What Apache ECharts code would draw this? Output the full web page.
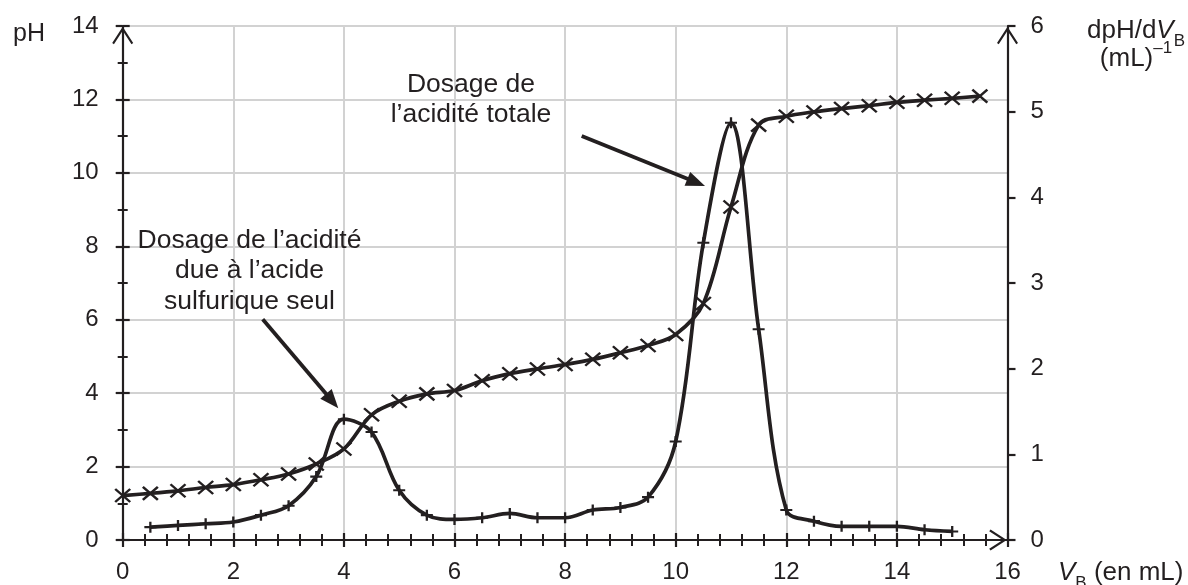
<!DOCTYPE html>
<html>
<head>
<meta charset="utf-8">
<script src="https://cdn.jsdelivr.net/npm/echarts@6/dist/echarts.min.js"></script>
<style>
html,body{margin:0;padding:0;background:#fff;}
#c{width:1188px;height:585px;}
</style>
</head>
<body>
<div id="c"></div>
<script>
// ---- data ----
const volumePH = [0,0.5,1,1.5,2,2.5,3,3.5,4,4.5,5,5.5,6,6.5,7,7.5,8,8.5,9,9.5,10,10.5,11,11.5,12,12.5,13,13.5,14,14.5,15,15.5];
const pHValues = [1.21,1.27,1.34,1.43,1.51,1.64,1.80,2.07,2.48,3.41,3.78,3.98,4.07,4.34,4.53,4.66,4.78,4.92,5.10,5.30,5.60,6.44,9.07,11.30,11.54,11.66,11.75,11.83,11.92,11.98,12.03,12.09];
const volumeDeriv = [0.5,1,1.5,2,2.5,3,3.5,4,4.5,5,5.5,6,6.5,7,7.5,8,8.5,9,9.5,10,10.5,11,11.5,12,12.5,13,13.5,14,14.5,15];
const derivValues = [0.15,0.17,0.19,0.21,0.29,0.40,0.74,1.41,1.26,0.58,0.29,0.24,0.26,0.31,0.26,0.26,0.35,0.38,0.50,1.15,3.47,4.87,2.46,0.35,0.22,0.16,0.16,0.16,0.12,0.10];
const xTicks = {min:0, max:16, interval:2};
const pHTicks = {min:0, max:14, interval:2};
const derivTicks = {min:0, max:6, interval:1};
const annotation1 = "Dosage de l’acidité\ndue à l’acide\nsulfurique seul";
const annotation2 = "Dosage de\nl’acidité totale";

// ---- styling ----
const INK = '#231f20';
const GRIDC = '#d2d2d2';
const FONT = '"Liberation Sans", Arial, Helvetica, sans-serif';
const chevron = 'path://M11,0 L22,17 L20.2,18.4 L11,4.2 L1.8,18.4 L0,17 Z';
const crossSym = 'path://M0,0 L10,10 M10,0 L0,10';
const plusSym = 'path://M5,0 L5,10 M0,5 L10,5';

const pairs = (xs, ys) => xs.map((x, i) => [x, ys[i]]);

const chart = echarts.init(document.getElementById('c'), null, {renderer: 'canvas'});

const grid = {left: 122.7, right: 180.5, top: 26, bottom: 45, outerBoundsMode: 'none', containLabel: false};

function arrow(x1, y1, x2, y2) {
  const dx = x2 - x1, dy = y2 - y1, L = Math.hypot(dx, dy);
  const ux = dx / L, uy = dy / L, hl = 19, hw = 7.5;
  const bx = x2 - ux * hl, by = y2 - uy * hl;
  return [
    {type: 'line', shape: {x1: x1, y1: y1, x2: bx + ux * 2, y2: by + uy * 2}, style: {stroke: INK, lineWidth: 3.8}, z: 50},
    {type: 'polygon', shape: {points: [[x2, y2], [bx - uy * hw, by + ux * hw], [bx + uy * hw, by - ux * hw]]}, style: {fill: INK}, z: 50}
  ];
}

const option = {
  animation: false,
  backgroundColor: '#fff',
  textStyle: {fontFamily: FONT},
  grid: grid,
  xAxis: [
    {
      type: 'value', position: 'bottom', min: xTicks.min, max: xTicks.max, interval: xTicks.interval,
      axisLine: {show: true, onZero: false, lineStyle: {color: INK, width: 2.2}, symbol: ['none', chevron], symbolSize: [21, 19], symbolOffset: [0, -9.5]},
      axisTick: {show: true, inside: false, length: 7, lineStyle: {color: INK, width: 2.2}},
      minorTick: {show: true, splitNumber: 5, length: 6, lineStyle: {color: INK, width: 2}},
      axisLabel: {show: true, color: INK, fontSize: 24, fontFamily: FONT, margin: 20},
      splitLine: {show: true, lineStyle: {color: GRIDC, width: 2}},
      minorSplitLine: {show: false}
    },
    {
      type: 'value', position: 'bottom', offset: 0, min: xTicks.min, max: xTicks.max, interval: xTicks.interval,
      axisLine: {show: false, onZero: false},
      axisTick: {show: true, inside: true, length: 7, lineStyle: {color: INK, width: 2.2}},
      minorTick: {show: true, splitNumber: 5, length: 6, lineStyle: {color: INK, width: 2}},
      axisLabel: {show: false},
      splitLine: {show: false}
    }
  ],
  yAxis: [
    {
      type: 'value', position: 'left', min: pHTicks.min, max: pHTicks.max, interval: pHTicks.interval,
      axisLine: {show: true, onZero: false, lineStyle: {color: INK, width: 2.2}, symbol: ['none', chevron], symbolSize: [21, 19], symbolOffset: [0, -9.5]},
      axisTick: {show: true, inside: false, length: 7, lineStyle: {color: INK, width: 2.2}},
      minorTick: {show: true, splitNumber: 2, length: 5, lineStyle: {color: INK, width: 2}},
      axisLabel: {show: true, color: INK, fontSize: 24, fontFamily: FONT, margin: 24},
      splitLine: {show: true, lineStyle: {color: GRIDC, width: 2}}
    },
    {
      type: 'value', position: 'right', min: derivTicks.min, max: derivTicks.max, interval: derivTicks.interval,
      axisLine: {show: true, onZero: false, lineStyle: {color: INK, width: 2.2}, symbol: ['none', chevron], symbolSize: [21, 19], symbolOffset: [0, -9.5]},
      axisTick: {show: true, inside: false, length: 8, lineStyle: {color: INK, width: 2.2}},
      axisLabel: {show: true, color: INK, fontSize: 24, fontFamily: FONT, margin: 23},
      splitLine: {show: false}
    },
    {
      type: 'value', position: 'left', offset: 0, min: pHTicks.min, max: pHTicks.max, interval: pHTicks.interval,
      axisLine: {show: false, onZero: false},
      axisTick: {show: true, inside: true, length: 7, lineStyle: {color: INK, width: 2.2}},
      minorTick: {show: true, splitNumber: 2, length: 5, lineStyle: {color: INK, width: 2}},
      axisLabel: {show: false},
      splitLine: {show: false}
    }
  ],
  series: [
    {
      name: 'pH', type: 'line', xAxisIndex: 0, yAxisIndex: 0,
      data: pairs(volumePH, pHValues),
      smooth: 0.35, showAllSymbol: true,
      symbol: crossSym, symbolSize: [15, 13], symbolKeepAspect: false,
      lineStyle: {color: INK, width: 3.7},
      itemStyle: {color: 'rgba(0,0,0,0)', borderColor: INK, borderWidth: 2.3},
      emphasis: {disabled: true}, z: 5
    },
    {
      name: 'dpH/dVB', type: 'line', xAxisIndex: 0, yAxisIndex: 1,
      data: pairs(volumeDeriv, derivValues),
      smooth: 0.35, showAllSymbol: true,
      symbol: plusSym, symbolSize: [12, 11], symbolKeepAspect: false,
      lineStyle: {color: INK, width: 3.7},
      itemStyle: {color: 'rgba(0,0,0,0)', borderColor: INK, borderWidth: 2.2},
      emphasis: {disabled: true}, z: 5
    }
  ],
  graphic: [
    {type: 'text', left: 13, top: 22, style: {text: 'pH', font: '25px ' + FONT, fill: INK}},
    {type: 'text', x: 1136, y: 30, style: {
      text: '{n|dpH/d}{i|V}{s|B}', align: 'center', verticalAlign: 'middle', fill: INK,
      rich: {
        n: {fontSize: 26, fontFamily: FONT, fill: INK, lineHeight: 28, verticalAlign: 'bottom'},
        i: {fontSize: 26, fontFamily: FONT, fontStyle: 'italic', fill: INK, lineHeight: 28, verticalAlign: 'bottom'},
        s: {fontSize: 17, fontFamily: FONT, fill: INK, lineHeight: 19, verticalAlign: 'bottom', padding: [0, 0, -6, 0]}
      }}},
    {type: 'text', x: 1136, y: 58, style: {
      text: '{n|(mL)}{s|–1}', align: 'center', verticalAlign: 'middle', fill: INK,
      rich: {
        n: {fontSize: 26, fontFamily: FONT, fill: INK, lineHeight: 28, verticalAlign: 'bottom'},
        s: {fontSize: 17, fontFamily: FONT, fill: INK, lineHeight: 19, verticalAlign: 'top', padding: [-4, 0, 0, 0]}
      }}},
    {type: 'text', x: 1058, y: 572, style: {
      text: '{i|V}{s|B}{n| (en mL)}', align: 'left', verticalAlign: 'middle', fill: INK,
      rich: {
        n: {fontSize: 26, fontFamily: FONT, fill: INK, lineHeight: 28, verticalAlign: 'bottom'},
        i: {fontSize: 26, fontFamily: FONT, fontStyle: 'italic', fill: INK, lineHeight: 28, verticalAlign: 'bottom'},
        s: {fontSize: 17, fontFamily: FONT, fill: INK, lineHeight: 19, verticalAlign: 'bottom', padding: [0, 0, -6, 0]}
      }}},
    {type: 'text', x: 249.5, y: 271, z: 40, style: {text: annotation1, font: '26.5px ' + FONT, fill: INK, align: 'center', verticalAlign: 'middle', lineHeight: 30.5}},
    {type: 'text', x: 471, y: 100, z: 40, style: {text: annotation2, font: '26.5px ' + FONT, fill: INK, align: 'center', verticalAlign: 'middle', lineHeight: 30}}
  ].concat(arrow(262.7, 319.3, 338.3, 408.3), arrow(581.7, 136, 705, 186))
};

chart.setOption(option);
</script>
</body>
</html>
